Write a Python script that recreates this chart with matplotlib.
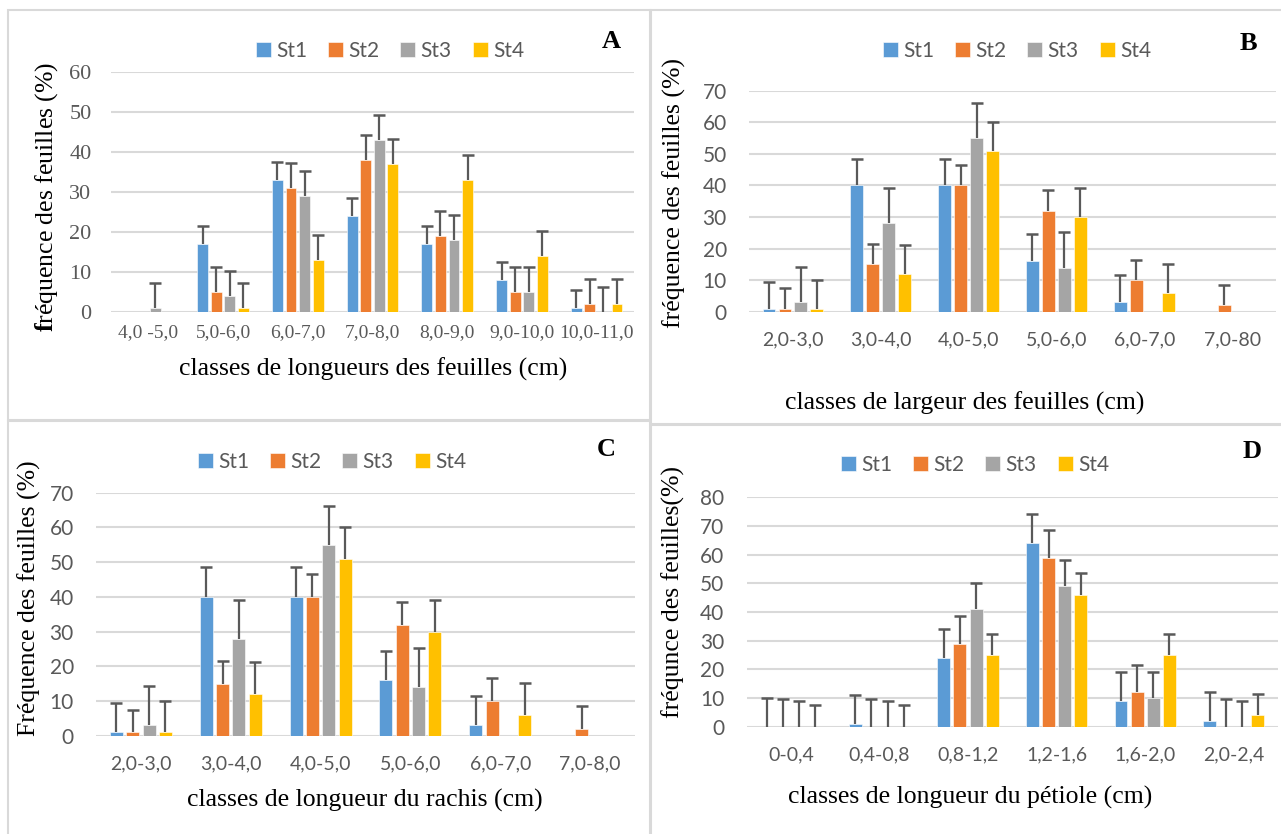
import matplotlib
matplotlib.use('Agg')
import matplotlib.pyplot as plt
from matplotlib.patches import Rectangle
import numpy as np

plt.rcParams['mathtext.fontset'] = 'custom'
plt.rcParams['mathtext.bf'] = 'Liberation Serif:bold'
plt.rcParams['mathtext.rm'] = 'Liberation Serif'

series = ['St1', 'St2', 'St3', 'St4']
colors = ['#5B9BD5', '#ED7D31', '#A5A5A5', '#FFC000']

# A : longueur des feuilles
cls_a = ['4,0 -5,0', '5,0-6,0', '6,0-7,0', '7,0-8,0', '8,0-9,0', '9,0-10,0', '10,0-11,0']
a_st1 = [0, 17, 33, 24, 17, 8, 1]
a_st2 = [0, 5, 31, 38, 19, 5, 2]
a_st3 = [1, 4, 29, 43, 18, 5, 0]
a_st4 = [0, 1, 13, 37, 33, 14, 2]
a_err1 = [0, 4.6, 4.6, 4.6, 4.6, 4.6, 4.6]
a_err2 = [0, 6.25, 6.25, 6.25, 6.25, 6.25, 6.25]
a_err3 = [6.25, 6.25, 6.25, 6.25, 6.25, 6.25, 6.25]
a_err4 = [0, 6.25, 6.25, 6.25, 6.25, 6.25, 6.25]

# B : largeur des feuilles
cls_b = ['2,0-3,0', '3,0-4,0', '4,0-5,0', '5,0-6,0', '6,0-7,0', '7,0-80']
b_st1 = [1, 40, 40, 16, 3, 0]
b_st2 = [1, 15, 40, 32, 10, 2]
b_st3 = [3, 28, 55, 14, 0, 0]
b_st4 = [1, 12, 51, 30, 6, 0]
b_err1 = [8.5, 8.5, 8.5, 8.5, 8.5, 0]
b_err2 = [6.5, 6.5, 6.5, 6.5, 6.5, 6.5]
b_err3 = [11.2, 11.2, 11.2, 11.2, 0, 0]
b_err4 = [9.1, 9.1, 9.1, 9.1, 9.1, 0]

# C : longueur du rachis
cls_c = ['2,0-3,0', '3,0-4,0', '4,0-5,0', '5,0-6,0', '6,0-7,0', '7,0-8,0']
c_st1 = [1, 40, 40, 16, 3, 0]
c_st2 = [1, 15, 40, 32, 10, 2]
c_st3 = [3, 28, 55, 14, 0, 0]
c_st4 = [1, 12, 51, 30, 6, 0]
c_err1 = [8.5, 8.5, 8.5, 8.5, 8.5, 0]
c_err2 = [6.5, 6.5, 6.5, 6.5, 6.5, 6.5]
c_err3 = [11.2, 11.2, 11.2, 11.2, 0, 0]
c_err4 = [9.1, 9.1, 9.1, 9.1, 9.1, 0]

# D : longueur du pétiole
cls_d = ['0-0,4', '0,4-0,8', '0,8-1,2', '1,2-1,6', '1,6-2,0', '2,0-2,4']
d_st1 = [0, 1, 24, 64, 9, 2]
d_st2 = [0, 0, 29, 59, 12, 0]
d_st3 = [0, 0, 41, 49, 10, 0]
d_st4 = [0, 0, 25, 46, 25, 4]
d_err1 = [10.1, 10.1, 10.1, 10.1, 10.1, 10.1]
d_err2 = [9.65, 9.65, 9.65, 9.65, 9.65, 9.65]
d_err3 = [9.1, 9.1, 9.1, 9.1, 9.1, 9.1]
d_err4 = [7.5, 7.5, 7.5, 7.5, 7.5, 7.5]

W, H = 1281, 834
fig = plt.figure(figsize=(W / 100, H / 100), dpi=100)

# cadres gris autour des quatre graphiques
for x0, y0, x1, y1 in [(8, 10, 650, 420), (651, 10, 1290, 425),
                       (8, 421, 650, 840), (651, 424, 1290, 840)]:
    fig.patches.append(Rectangle((x0 / W, 1 - y1 / H), (x1 - x0) / W, (y1 - y0) / H,
                                 transform=fig.transFigure, fill=False,
                                 edgecolor='#D9D9D9', lw=1.5))


def draw(box, cats, vals, errs, ymax, letter, letter_xy, ylabel, ylabel_xy,
         xlabel, xlabel_xy, leg_xy, serif_ticks=False, ypad=16, xpad=14):
    x0, x1, ytop, ybot = box
    ax = fig.add_axes([x0 / W, 1 - ybot / H, (x1 - x0) / W, (ybot - ytop) / H])
    n = len(cats)
    x = np.arange(n)
    pitch, width = 0.182, 0.146
    for i, (v, e) in enumerate(zip(vals, errs)):
        xs = x + (i - 1.5) * pitch
        ax.bar(xs, v, width, color=colors[i], edgecolor='white', linewidth=0.4,
               label=series[i], zorder=2)
        # barres d'erreur vers le haut seulement
        v = np.array(v, float)
        e = np.array(e, float)
        m = e > 0
        ax.vlines(xs[m], v[m], v[m] + e[m], color='#595959', lw=1.6, zorder=3)
        ax.plot(xs[m], v[m] + e[m], ls='none', marker='_', ms=9, mew=1.8,
                color='#595959', zorder=3)
    ax.set_xlim(-0.5, n - 0.5)
    ax.set_ylim(0, ymax)
    ax.set_yticks(np.arange(0, ymax + 1, 10))
    ax.set_xticks(x)
    ax.set_xticklabels(cats)
    ax.yaxis.grid(True, color='#D9D9D9', lw=1.5, zorder=0)
    ax.set_axisbelow(True)
    for s in ax.spines.values():
        s.set_visible(False)
    ax.tick_params(length=0)
    fam = 'Liberation Serif' if serif_ticks else 'Lato'
    ax.tick_params(axis='y', labelsize=16 if serif_ticks else 15, pad=ypad,
                   labelcolor='#595959')
    ax.tick_params(axis='x', labelsize=14, pad=xpad, labelcolor='#595959')
    for t in ax.get_xticklabels() + ax.get_yticklabels():
        t.set_family(fam)

    handles, labels = ax.get_legend_handles_labels()
    fig.legend(handles, labels, loc='center',
               bbox_to_anchor=(leg_xy[0] / W, 1 - leg_xy[1] / H),
               ncol=4, frameon=False, prop={'family': 'Lato', 'size': 15},
               labelcolor='#595959', handlelength=0.72, handleheight=0.72,
               handletextpad=0.25, columnspacing=1.0, borderpad=0)
    fig.text(letter_xy[0] / W, 1 - letter_xy[1] / H, letter, family='Liberation Serif',
             weight='bold', size=19, ha='center', va='center')
    fig.text(ylabel_xy[0] / W, 1 - ylabel_xy[1] / H, ylabel, family='Liberation Serif',
             size=18.5, rotation=90, ha='center', va='center')
    fig.text(xlabel_xy[0] / W, 1 - xlabel_xy[1] / H, xlabel, family='Liberation Serif',
             size=18.5, ha='center', va='center')
    return ax


draw((111, 634, 72, 312), cls_a, [a_st1, a_st2, a_st3, a_st4],
     [a_err1, a_err2, a_err3, a_err4], 60, 'A', (611, 41),
     r'$\mathbf{f}$réquence des feuilles (%)', (47, 197),
     'classes de longueurs des feuilles (cm)', (373, 369), (390, 51),
     serif_ticks=True, ypad=14, xpad=9)

draw((749, 1276, 90.7, 311.7), cls_b, [b_st1, b_st2, b_st3, b_st4],
     [b_err1, b_err2, b_err3, b_err4], 70, 'B', (1248, 43),
     'fréquence des feuilles (%)', (674, 193),
     'classes de largeur des feuilles (cm)', (965, 403), (1017, 51))

draw((96, 635, 492.7, 735.7), cls_c, [c_st1, c_st2, c_st3, c_st4],
     [c_err1, c_err2, c_err3, c_err4], 70, 'C', (606, 449),
     'Fréquence des feuilles (%)', (29, 598),
     'classes de longueur du rachis (cm)', (365, 800), (332, 462))

draw((746.6, 1278, 497.3, 726.7), cls_d, [d_st1, d_st2, d_st3, d_st4],
     [d_err1, d_err2, d_err3, d_err4], 80, 'D', (1252, 452),
     'fréqunce des feuilles(%)', (673, 592),
     'classes de longueur du pétiole (cm)', (970, 797), (975, 465))

fig.savefig('out.png', dpi=100)
